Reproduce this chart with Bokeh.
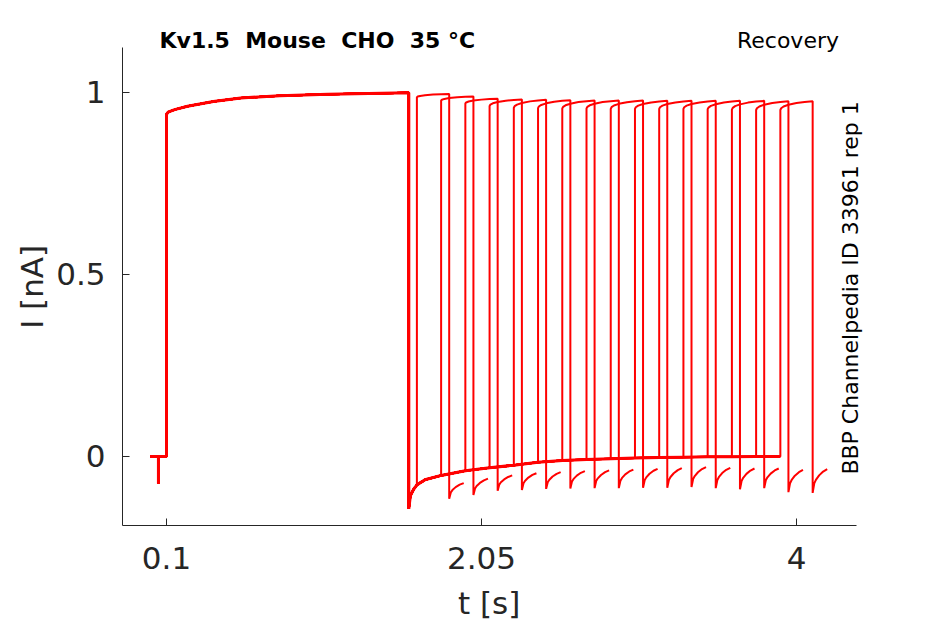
import numpy as np
from bokeh.plotting import figure
from bokeh.models import Range1d, FixedTicker, CustomJSTickFormatter, Label
from bokeh.embed import file_html
from bokeh.resources import INLINE

# ---------------- data ----------------
# holding segment with a small capacitive transient (s, nA)
pre_t = [0.0, 0.05, 0.05, 0.05, 0.1]
pre_i = [0.0, 0.0, -0.074, 0.0, 0.0]

# conditioning pulse
cond_t = [0.1, 0.1, 0.11, 0.15, 0.23, 0.39, 0.56, 0.8, 1.1, 1.35, 1.6]
cond_i = [0.0, 0.94, 0.946, 0.953, 0.962, 0.975, 0.985, 0.991, 0.995, 0.997, 0.999]

# tail current after the conditioning pulse
tail_t = [1.6, 1.6, 1.61, 1.63, 1.65, 1.7, 1.8, 1.95, 2.1, 2.25, 2.4, 2.55, 2.7,
          2.85, 3.0, 3.15, 3.3, 3.45, 3.6, 3.75, 3.9]
tail_i = [0.999, -0.144, -0.107, -0.09, -0.078, -0.064, -0.052, -0.039, -0.031,
          -0.024, -0.016, -0.011, -0.008, -0.006, -0.004, -0.003, -0.002, -0.001,
          -0.001, 0.0, 0.0]

# test pulses (one per sweep)
test_on = [1.65, 1.8, 1.95, 2.1, 2.25, 2.4, 2.55, 2.7, 2.85, 3.0, 3.15, 3.3,
           3.45, 3.6, 3.75, 3.9]
test_dur = 0.2
test_start = [0.987, 0.978, 0.97, 0.963, 0.958, 0.957, 0.956, 0.956, 0.955,
              0.955, 0.955, 0.955, 0.954, 0.953, 0.952, 0.952]
test_end = [0.996, 0.989, 0.983, 0.981, 0.98, 0.979, 0.978, 0.978, 0.978,
            0.977, 0.977, 0.977, 0.977, 0.977, 0.976, 0.976]
test_shape_t = [0.0, 0.005, 0.02, 0.05, 0.1, 0.15, 0.2]
test_shape_f = [0.0, 0.2, 0.4, 0.6, 0.8, 0.92, 1.0]

# tails after the test pulses
post_min = [-0.116, -0.106, -0.094, -0.092, -0.089, -0.088, -0.087, -0.087,
            -0.086, -0.086, -0.084, -0.087, -0.09, -0.087, -0.098, -0.1]
post_end = [-0.073, -0.061, -0.052, -0.046, -0.043, -0.04, -0.038, -0.036,
            -0.034, -0.032, -0.029, -0.031, -0.033, -0.033, -0.037, -0.035]
post_shape_t = [0.0, 0.01, 0.02, 0.04, 0.065, 0.09]
post_shape_f = [0.0, 0.4, 0.55, 0.74, 0.9, 1.0]

x_ticks = [0.1, 2.05, 4.0]
x_tick_labels = ["0.1", "2.05", "4"]
y_ticks = [0.0, 0.5, 1.0]
y_tick_labels = ["0", "0.5", "1"]

NB = "\u00a0"
title_text = "Kv1.5" + NB + " Mouse" + NB + " CHO" + NB + " 35 °C"
right_title = "Recovery"
side_text = "BBP Channelpedia ID 33961 rep 1"
x_label = "t [s]"
y_label = "I [nA]"

# axes extents (as in the original axes box)
x_lim = (-0.1724, 4.3714)
y_lim = (-0.1896, 1.1236)

# ---------------- build sweeps ----------------
xs, ys = [], []
for k, on in enumerate(test_on):
    x = list(pre_t) + list(cond_t)
    y = list(pre_i) + list(cond_i)
    for tt, ii in zip(tail_t, tail_i):
        if tt <= on + 1e-9:
            x.append(tt)
            y.append(ii)
    a, b = test_start[k], test_end[k]
    for st, sf in zip(test_shape_t, test_shape_f):
        x.append(on + st)
        y.append(a + (b - a) * sf)
    off = on + test_dur
    d, e = post_min[k], post_end[k]
    for st, sf in zip(post_shape_t, post_shape_f):
        x.append(off + st)
        y.append(d + (e - d) * sf)
    xs.append(x)
    ys.append(y)

common_x = list(pre_t) + list(cond_t) + list(tail_t)
common_y = list(pre_i) + list(cond_i) + list(tail_i)

# ---------------- figure ----------------
FONT = "DejaVu Sans"
# frame extends a little beyond the axes box so the annotations sit inside it;
# the axis lines are limited to the axes box with bounds
p = figure(width=929, height=624, output_backend="svg", toolbar_location=None,
           x_range=Range1d(x_lim[0], 4.4271), y_range=Range1d(y_lim[0], 1.1758),
           min_border_left=122, min_border_right=64, min_border_top=28,
           min_border_bottom=99)
p.outline_line_color = None
p.grid.visible = False
p.background_fill_color = "white"
p.border_fill_color = "white"

p.multi_line(xs, ys, line_color="#ff0000", line_width=2)
p.line(common_x, common_y, line_color="#ff0000", line_width=3)

fmt_code = """
const i = tvals.findIndex(t => Math.abs(t - tick) < 1e-9);
return i >= 0 ? tlabels[i] : '';
"""
p.xaxis.ticker = FixedTicker(ticks=x_ticks)
p.xaxis.formatter = CustomJSTickFormatter(args=dict(tvals=x_ticks, tlabels=x_tick_labels), code=fmt_code)
p.yaxis.ticker = FixedTicker(ticks=y_ticks)
p.yaxis.formatter = CustomJSTickFormatter(args=dict(tvals=y_ticks, tlabels=y_tick_labels), code=fmt_code)
p.xaxis.bounds = x_lim
p.yaxis.bounds = y_lim

for ax in (p.xaxis[0], p.yaxis[0]):
    ax.axis_line_color = "#262626"
    ax.axis_line_width = 1
    ax.major_tick_line_color = "#262626"
    ax.major_tick_in = 7
    ax.major_tick_out = 0
    ax.minor_tick_line_color = None
    ax.major_label_text_font = FONT
    ax.major_label_text_font_size = "31px"
    ax.major_label_text_color = "#262626"
    ax.axis_label_text_font = FONT
    ax.axis_label_text_font_size = "31px"
    ax.axis_label_text_font_style = "normal"
    ax.axis_label_text_color = "#262626"

# trailing no-break spaces re-centre the labels on the axes box
p.xaxis.axis_label = x_label + NB
p.yaxis.axis_label = y_label + NB + NB
p.xaxis.major_label_standoff = 21
p.yaxis.major_label_standoff = 17
p.xaxis.axis_label_standoff = 13
p.yaxis.axis_label_standoff = 3

p.add_layout(Label(x=0.0567, y=1.1437, text=title_text, text_font=FONT,
                   text_font_size="22px", text_font_style="bold",
                   text_color="black", text_align="left",
                   text_baseline="alphabetic"))
p.add_layout(Label(x=4.263, y=1.1437, text=right_title, text_font=FONT,
                   text_font_size="22px", text_color="black",
                   text_align="right", text_baseline="alphabetic"))
p.add_layout(Label(x=4.3343, y=0.463, text=side_text, text_font=FONT,
                   text_font_size="22px", text_color="black",
                   text_align="center", text_baseline="alphabetic",
                   angle=np.pi / 2))

open("out.html", "w").write(file_html(p, INLINE))
